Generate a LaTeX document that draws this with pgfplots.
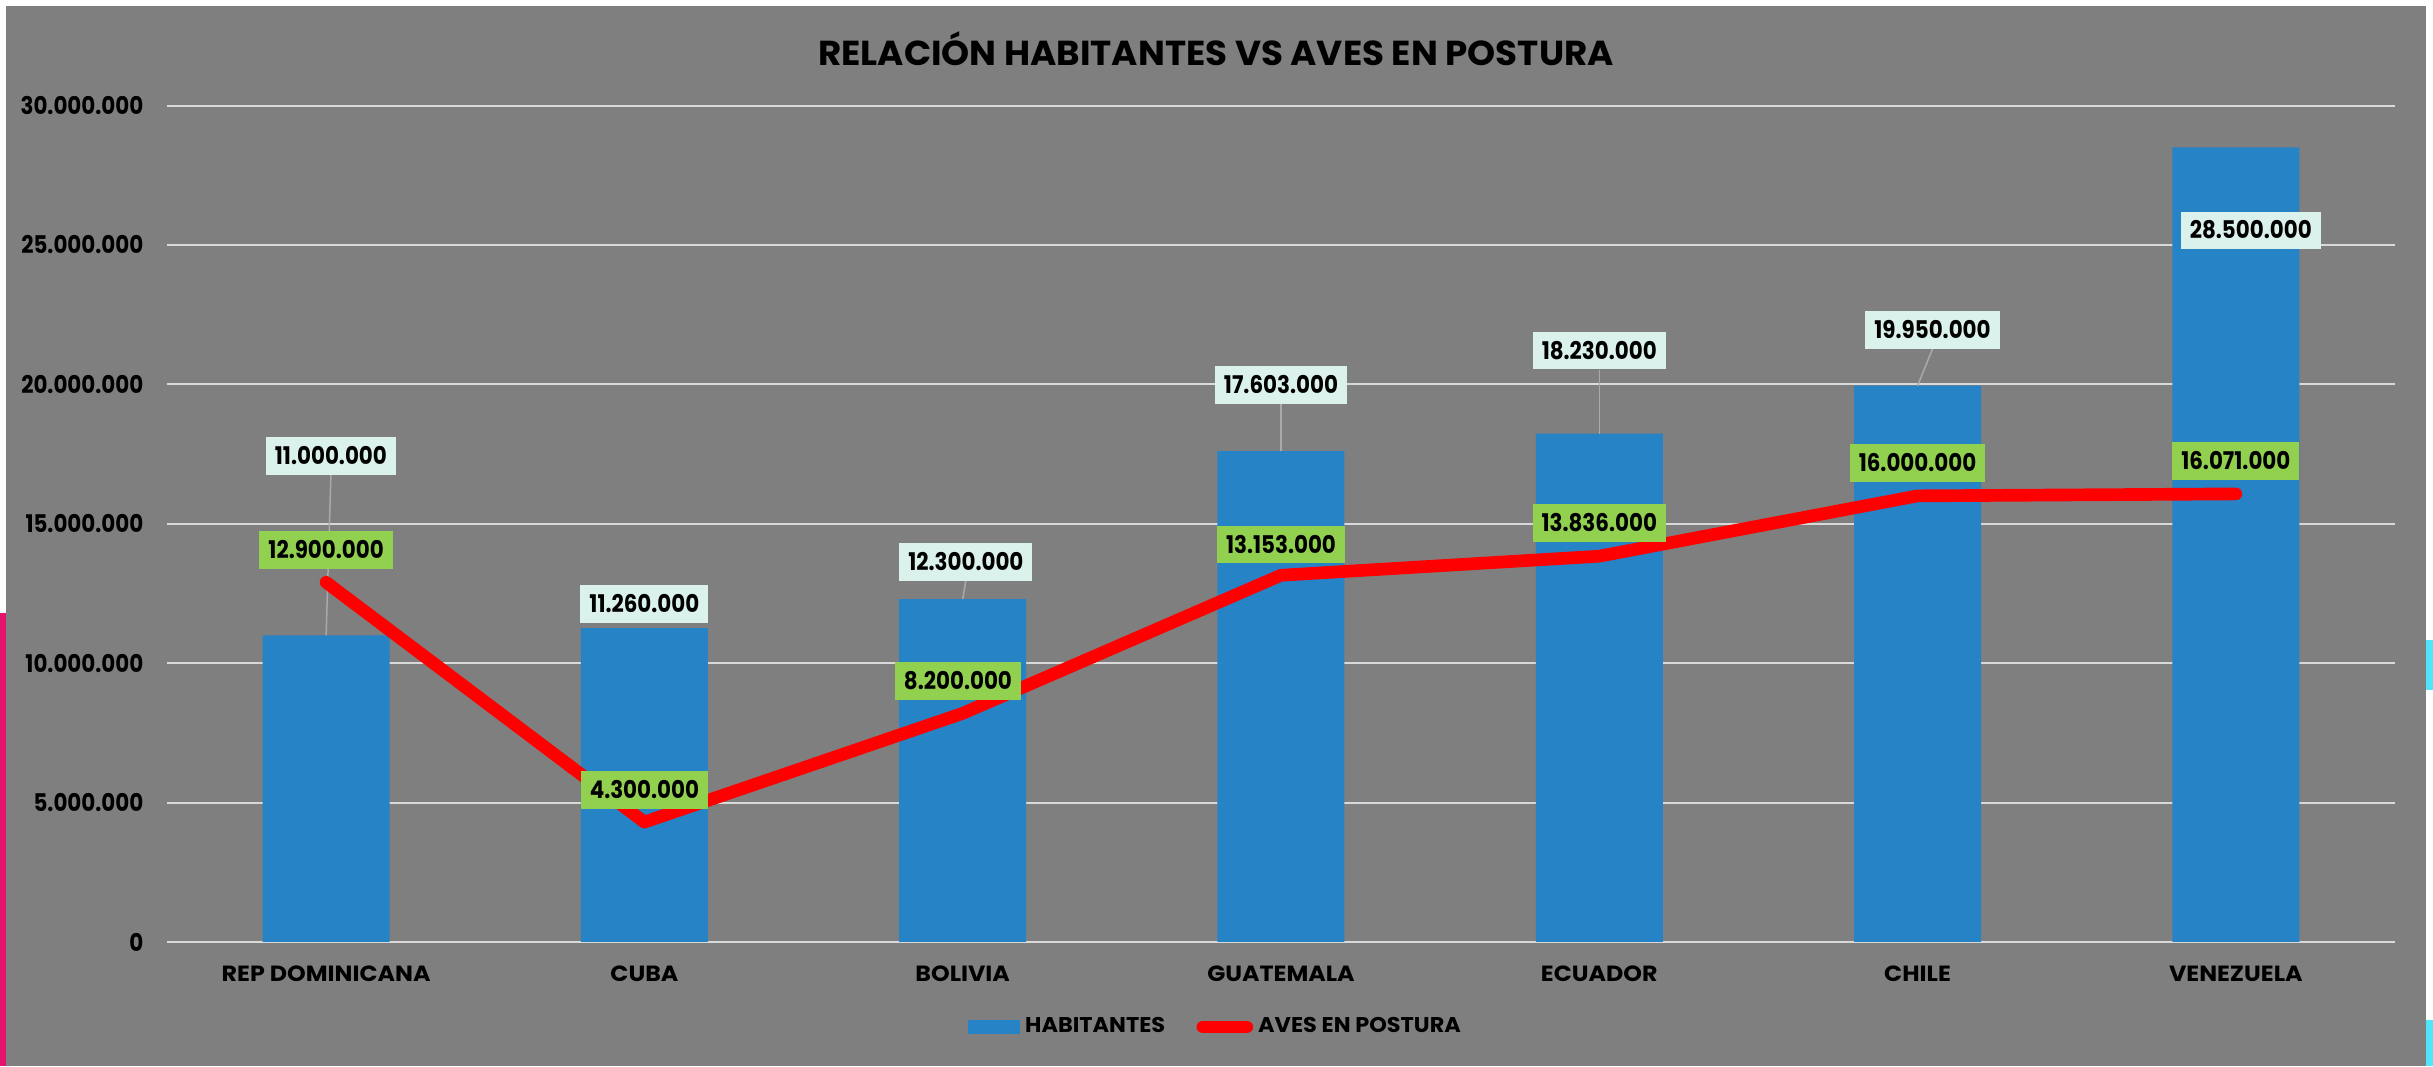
\documentclass[border=0pt]{standalone}
\usepackage{pgfplots}
\pgfplotsset{compat=1.18}
\usepackage{fontspec}
\setmainfont{Poppins}
\newfontfamily\numfont{Poppins}[FakeStretch=0.88]
\newfontfamily\widefont{Poppins}[FakeStretch=1.08]
\newfontfamily\legfont{Poppins}[FakeStretch=1.05]
\newfontfamily\titfont{Poppins}[FakeStretch=1.03]
\definecolor{bg}{RGB}{127,127,127}
\definecolor{barblue}{RGB}{38,131,198}
\definecolor{gridc}{RGB}{217,217,217}
\definecolor{avesfill}{RGB}{146,208,80}
\definecolor{habfill}{RGB}{219,241,236}
\definecolor{leaderc}{RGB}{170,170,170}
\definecolor{pinkedge}{RGB}{226,20,110}
\definecolor{cyanedge}{RGB}{80,230,250}
\newcommand\xlab{\widefont\bfseries\fontsize{6.6}{7.9}\selectfont}
\newcommand\leglab{\legfont\bfseries\fontsize{6.4}{7.7}\selectfont}
\newcommand\numlab{\numfont\bfseries\fontsize{7.3}{8.7}\selectfont}
\begin{document}
\begin{tikzpicture}[x=0.3pt,y=-0.3pt,
  hab/.style={fill=habfill, font=\numlab, text=black, inner xsep=2.7pt, inner ysep=3.1pt, text height=5.1pt, text depth=0pt, anchor=center},
  aves/.style={fill=avesfill, font=\numlab, text=black, inner xsep=2.7pt, inner ysep=3.1pt, text height=5.1pt, text depth=0pt, anchor=center},
  leader/.style={draw=leaderc, line width=0.45pt}]
\path[use as bounding box] (0,0) rectangle (2433,1066);
\fill[white] (0,0) rectangle (2433,1066);
\fill[bg] (6,6) rectangle (2426,1066);
\fill[pinkedge] (0,613) rectangle (6,1066);
\fill[cyanedge] (2426,640) rectangle (2433,690);
\fill[cyanedge] (2426,1020) rectangle (2433,1066);
\node[font=\titfont\bfseries\fontsize{10.4}{12}\selectfont, anchor=base, inner sep=0pt] at (1216,65) {RELACIÓN HABITANTES VS AVES EN POSTURA};
\begin{axis}[at={(50.1pt,-31.65pt)}, anchor=north west, scale only axis,
  width=668.4pt, height=250.95pt,
  xmin=-0.5, xmax=6.5, ymin=0, ymax=30000000,
  axis line style={draw=none}, major tick length=0pt,
  ytick={0,5000000,10000000,15000000,20000000,25000000,30000000},
  yticklabels={0,5.000.000,10.000.000,15.000.000,20.000.000,25.000.000,30.000.000},
  scaled y ticks=false,
  ymajorgrids, grid style={gridc, line width=0.6pt},
  xtick={0,1,2,3,4,5,6},
  xticklabels={REP DOMINICANA,CUBA,BOLIVIA,GUATEMALA,ECUADOR,CHILE,VENEZUELA},
  xticklabel style={font=\xlab, text=black, anchor=base, inner sep=0pt, yshift=-11.85pt},
  yticklabel style={font=\numlab, text=black, anchor=east, inner sep=0pt, xshift=-6.9pt},
  clip=false,
  legend style={at={(0.4713,-0.1016)}, anchor=center, draw=none, fill=none,
    font=\leglab, text=black, inner sep=0pt,
    nodes={inner xsep=1.5pt},
    /tikz/every even column/.append style={column sep=7.9pt}},
  legend columns=-1, legend cell align=left,
]
\addplot[ybar, bar width=38.1pt, fill=barblue, draw=none,
  legend image code/.code={\fill[barblue] (0pt,-2.1pt) rectangle (15.6pt,2.1pt);}]
  coordinates {(0,11000000) (1,11260000) (2,12300000) (3,17603000) (4,18230000) (5,19950000) (6,28500000)};
\addlegendentry{HABITANTES}
\draw[leader] (axis cs:0.015,16750000) -- (axis cs:0,11000000);
\draw[leader] (axis cs:2.01,12960000) -- (axis cs:2,12300000);
\draw[leader] (axis cs:3,19300000) -- (axis cs:3,17603000);
\draw[leader] (axis cs:4,20530000) -- (axis cs:4,18230000);
\draw[leader] (axis cs:5.047,21270000) -- (axis cs:5,19950000);
\addplot[color=red, line width=3.8pt, line cap=round, line join=round, mark=none,
  legend image code/.code={\draw[red, line width=3.8pt, line cap=round] (1.9pt,0pt) -- (15.1pt,0pt);}]
  coordinates {(0,12900000) (1,4300000) (2,8200000) (3,13153000) (4,13836000) (5,16000000) (6,16071000)};
\addlegendentry{AVES EN POSTURA}
\node[hab] at (axis cs:0.015,17430000) {11.000.000};
\node[hab] at (axis cs:1,12120000) {11.260.000};
\node[hab] at (axis cs:2.01,13640000) {12.300.000};
\node[hab] at (axis cs:3,19980000) {17.603.000};
\node[hab] at (axis cs:4,21210000) {18.230.000};
\node[hab] at (axis cs:5.047,21950000) {19.950.000};
\node[hab] at (axis cs:6.047,25520000) {28.500.000};
\node[aves] at (axis cs:0,14060000) {12.900.000};
\node[aves] at (axis cs:1,5450000) {4.300.000};
\node[aves] at (axis cs:1.985,9350000) {8.200.000};
\node[aves] at (axis cs:3,14250000) {13.153.000};
\node[aves] at (axis cs:4,15030000) {13.836.000};
\node[aves] at (axis cs:5,17180000) {16.000.000};
\node[aves] at (axis cs:6,17240000) {16.071.000};
\end{axis}
\end{tikzpicture}
\end{document}
